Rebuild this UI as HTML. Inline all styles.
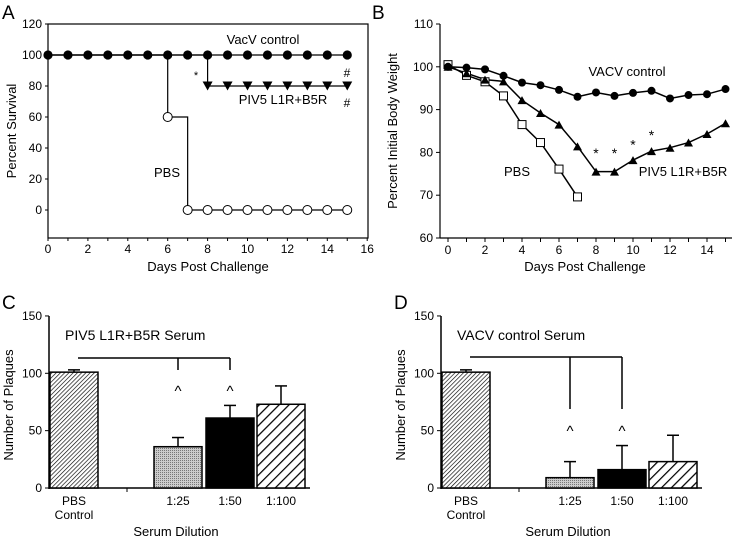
<!DOCTYPE html>
<html><head><meta charset="utf-8"><style>
html,body{margin:0;padding:0;background:#fff}
svg{display:block;font-family:"Liberation Sans",Arial,sans-serif}
</style></head><body>
<svg id="fig" width="737" height="541" viewBox="0 0 737 541" xmlns="http://www.w3.org/2000/svg">
<defs>
<pattern id="hatchFine" patternUnits="userSpaceOnUse" width="3" height="3" patternTransform="rotate(45)"><rect width="3" height="3" fill="#fff"/><line x1="0" y1="0" x2="0" y2="3" stroke="#000" stroke-width="1.3"/></pattern>
<pattern id="dots" patternUnits="userSpaceOnUse" width="2" height="2"><rect width="2" height="2" fill="#ccc"/><rect width="1" height="1" fill="#777"/></pattern>
<pattern id="hatchWide" patternUnits="userSpaceOnUse" width="7" height="7" patternTransform="rotate(45)"><rect width="7" height="7" fill="#fff"/><line x1="0" y1="0" x2="0" y2="7" stroke="#000" stroke-width="2.5"/></pattern>
</defs>
</svg>
<script>
// Panel A data
const daysA = [0,1,2,3,4,5,6,7,8,9,10,11,12,13,14,15];
const survVacV = [100,100,100,100,100,100,100,100,100,100,100,100,100,100,100,100];
const survPIV5 = [100,100,100,100,100,100,100,100,80,80,80,80,80,80,80,80];
const survPBS = [100,100,100,100,100,100,60,0,0,0,0,0,0,0,0,0];
const ticksAX = [0,2,4,6,8,10,12,14,16];
const ticksAY = [0,20,40,60,80,100,120];
// Panel B data
const daysB = [0,1,2,3,4,5,6,7,8,9,10,11,12,13,14,15];
const wVacV = [100,99.8,99.4,97.9,96.3,95.7,94.6,93,94,93.2,93.9,94.4,92.6,93.4,93.6,94.8];
const wPIV5 = [100,98.5,97,96.6,92.2,89.2,86.5,81.4,75.5,75.5,78.2,80.3,81.1,82.3,84.3,86.8];
const daysPBS = [0,1,2,3,4,5,6,7];
const wPBS = [100.5,98,96.5,93.2,86.5,82.3,76.1,69.6];
const starDays = [8,9,10,11];
const starVals = [80.3,80.3,82.3,84.5];
const ticksBX = [0,2,4,6,8,10,12,14];
const ticksBY = [60,70,80,90,100,110];
// Panel C/D data
const barCats = ["PBS Control","1:25","1:50","1:100"];
const cVals = [101,36,61,73];
const cErr = [103,44,72,89];
const dVals = [101,9,16,23];
const dErr = [103,23,37,46];
const ticksCY = [0,50,100,150];

const svg = document.getElementById('fig');
const NS = 'http://www.w3.org/2000/svg';
function mk(tag, attrs, parent){const e=document.createElementNS(NS,tag);for(const k in attrs)e.setAttribute(k,attrs[k]);(parent||svg).appendChild(e);return e;}
function txt(s,x,y,size,anchor,parent,rot){const t=mk('text',{x:x,y:y,'font-size':size,'text-anchor':anchor||'middle',fill:'#000'},parent);if(rot)t.setAttribute('transform','rotate(-90 '+x+' '+y+')');t.textContent=s;return t;}
function grp(name){const g=mk('g',{});return g;}

// ---------- Panel A ----------
(function(){
  const g = grp('panel-a');
  const ax = d => 48 + d*19.95;
  const ay = v => 210 - v*1.55;
  txt('A',2,19,19,'start',g);
  const box = mk('rect',{x:48,y:24,width:320,height:214,fill:'none',stroke:'#000','stroke-width':1.2},g);
  
  for(let d=0; d<=16; d++){ mk('line',{x1:ax(d),y1:238,x2:ax(d),y2:241,stroke:'#000'},g); }
  ticksAX.forEach(t=>{const e=txt(String(t),ax(t),253,12,'middle',g);});
  ticksAY.forEach(t=>{mk('line',{x1:45,y1:ay(t),x2:48,y2:ay(t),stroke:'#000'},g);const e=txt(String(t),42,ay(t)+4,12,'end',g);});
  txt('Days Post Challenge',208,271,13,'middle',g);
  txt('Percent Survival',16,131,13,'middle',g,true);
  function step(vals, name){
    let d='M'+ax(daysA[0])+','+ay(vals[0]);
    for(let i=1;i<daysA.length;i++){ d+=' L'+ax(daysA[i])+','+ay(vals[i-1])+' L'+ax(daysA[i])+','+ay(vals[i]); }
    const p=mk('path',{d:d,fill:'none',stroke:'#000','stroke-width':1.2},g);
    
  }
  step(survPBS,'line-pbs-a'); step(survPIV5,'line-piv5-a'); step(survVacV,'line-vacv-a');
  daysA.forEach((d,i)=>{ if(survPBS[i]<100){const c=mk('circle',{cx:ax(d),cy:ay(survPBS[i]),r:4.5,fill:'#fff',stroke:'#000','stroke-width':1},g);}});
  daysA.forEach((d,i)=>{ if(survPIV5[i]<100){const x=ax(d),y=ay(survPIV5[i]);const p=mk('path',{d:`M${x-5},${y-4.5} L${x+5},${y-4.5} L${x},${y+4.5} Z`,fill:'#000'},g);}});
  daysA.forEach((d,i)=>{const c=mk('circle',{cx:ax(d),cy:ay(survVacV[i]),r:4.6,fill:'#000'},g);});
  txt('VacV control',263,44,13,'middle',g);
  txt('PIV5 L1R+B5R',283,104,13,'middle',g);
  txt('PBS',167,177,13,'middle',g);
  txt('#',347,77,12,'middle',g);
  txt('#',347,107,12,'middle',g);
  txt('*',196,79,11,'middle',g);
})();

// ---------- Panel B ----------
(function(){
  const g = grp('panel-b');
  const ax = d => 448 + d*18.5;
  const ay = v => 238 - (v-60)*4.28;
  txt('B',372,19,19,'start',g);
  mk('line',{x1:440,y1:24,x2:440,y2:238,stroke:'#000','stroke-width':1.2},g);
  mk('line',{x1:440,y1:238,x2:732,y2:238,stroke:'#000','stroke-width':1.2},g);
  for(let d=0; d<=15; d++){ mk('line',{x1:ax(d),y1:238,x2:ax(d),y2:242,stroke:'#000'},g); }
  ticksBX.forEach(t=>{const e=txt(String(t),ax(t),254,12,'middle',g);});
  ticksBY.forEach(t=>{mk('line',{x1:436,y1:ay(t),x2:440,y2:ay(t),stroke:'#000'},g);const e=txt(String(t),433,ay(t)+4,12,'end',g);});
  txt('Days Post Challenge',585,271,13,'middle',g);
  txt('Percent Initial Body Weight',397,131,13,'middle',g,true);
  function line(xs, vs, name){
    const d=xs.map((x,i)=>(i?'L':'M')+ax(x)+','+ay(vs[i])).join(' ');
    const p=mk('path',{d:d,fill:'none',stroke:'#000','stroke-width':1.5},g);
  }
  line(daysPBS,wPBS,'line-pbs-b'); line(daysB,wPIV5,'line-piv5-b'); line(daysB,wVacV,'line-vacv-b');
  daysPBS.forEach((d,i)=>{const r=mk('rect',{x:ax(d)-4,y:ay(wPBS[i])-4,width:8,height:8,fill:'#fff',stroke:'#000','stroke-width':1},g);});
  daysB.forEach((d,i)=>{const x=ax(d),y=ay(wPIV5[i]);const p=mk('path',{d:`M${x-4.5},${y+4} L${x+4.5},${y+4} L${x},${y-4} Z`,fill:'#000'},g);});
  daysB.forEach((d,i)=>{const c=mk('circle',{cx:ax(d),cy:ay(wVacV[i]),r:4,fill:'#000'},g);});
  starDays.forEach((d,i)=>{const e=txt('*',ax(d),ay(starVals[i])+7,14,'middle',g);});
  txt('VACV control',627,76,13,'middle',g);
  txt('PIV5 L1R+B5R',683,176,13,'middle',g);
  txt('PBS',517,176,13,'middle',g);
})();

// ---------- Panels C & D ----------
function barPanel(opts){
  const g = grp(opts.name);
  const ox = opts.ox;
  const ay = v => 488 - v*1.147;
  const bx = [ox+1, ox+105, ox+157, ox+208];
  const bw = 48;
  const fills = ['url(#hatchFine)','url(#dots)','#000','url(#hatchWide)'];
  txt(opts.letter,ox-47,309,19,'start',g);
  mk('line',{x1:ox,y1:ay(150),x2:ox,y2:489,stroke:'#000','stroke-width':1.5},g);
  mk('line',{x1:ox,y1:488,x2:ox+261,y2:488,stroke:'#000','stroke-width':1.5},g);
  mk('line',{x1:ox+78,y1:488,x2:ox+78,y2:492,stroke:'#000'},g);
  ticksCY.forEach(t=>{mk('line',{x1:ox-4,y1:ay(t),x2:ox,y2:ay(t),stroke:'#000'},g);const e=txt(String(t),ox-7,ay(t)+4,12,'end',g);});
  txt('Number of Plaques',ox-36,405,13,'middle',g,true);
  txt(opts.title,ox+16,340,14,'start',g);
  opts.vals.forEach((v,i)=>{
    const x=bx[i], cx=x+bw/2;
    mk('line',{x1:cx,y1:ay(opts.err[i]),x2:cx,y2:ay(v),stroke:'#000','stroke-width':1.5},g);
    mk('line',{x1:cx-6,y1:ay(opts.err[i]),x2:cx+6,y2:ay(opts.err[i]),stroke:'#000','stroke-width':1.5},g);
    const r=mk('rect',{x:x,y:ay(v),width:bw,height:488-ay(v),fill:fills[i],stroke:'#000','stroke-width':1.5},g);
    
    
    if(i===0){ txt('PBS',cx,505,12,'middle',g); txt('Control',cx,519,12,'middle',g); }
    else { const e=txt(barCats[i],cx,505,12,'middle',g);  }
  });
  txt('Serum Dilution',ox+127,536,13,'middle',g);
  const c1=bx[1]+bw/2, c2=bx[2]+bw/2;
  mk('path',{d:`M${ox+29},${opts.brY} L${c2},${opts.brY} M${c1},${opts.brY} L${c1},${opts.dropY} M${c2},${opts.brY} L${c2},${opts.dropY}`,fill:'none',stroke:'#000','stroke-width':1.5},g);
  txt('^',c1,opts.caretY,15,'middle',g);
  txt('^',c2,opts.caretY,15,'middle',g);
}
barPanel({name:'panel-c',letter:'C',ox:49,vals:cVals,err:cErr,title:'PIV5 L1R+B5R Serum',brY:358,dropY:370,caretY:396});
barPanel({name:'panel-d',letter:'D',ox:441,vals:dVals,err:dErr,title:'VACV control Serum',brY:357,dropY:409,caretY:436});
</script>
</body></html>
